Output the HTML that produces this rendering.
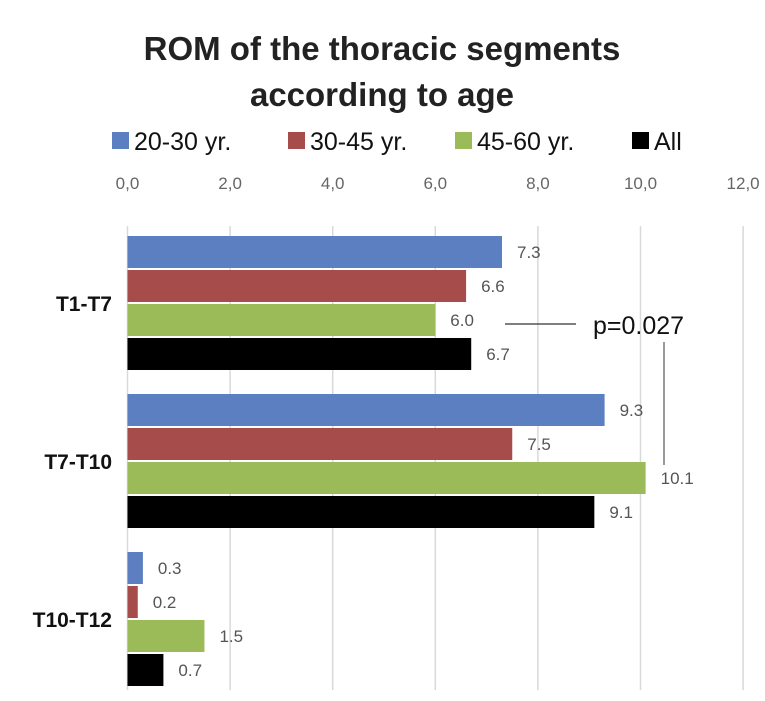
<!DOCTYPE html>
<html><head><meta charset="utf-8"><style>
body{margin:0;background:#fff;}
svg{display:block;font-family:"Liberation Sans",sans-serif;}
</style></head><body>
<svg id="chart" width="765" height="701">
<text x="382" y="60" text-anchor="middle" font-size="33" font-weight="bold" fill="#222">ROM of the thoracic segments</text>
<text x="382" y="106" text-anchor="middle" font-size="33" font-weight="bold" fill="#222">according to age</text>
<g id="legend"></g>
<g id="grid"></g>
<g id="bars"></g>
<line x1="505" y1="324" x2="576" y2="324" stroke="#333" stroke-width="1.2"/>
<line x1="664" y1="342" x2="664" y2="465" stroke="#777" stroke-width="1.5"/>
<text x="593" y="334" font-size="25" fill="#111">p=0.027</text>
</svg>
<script>
const categories=["T1-T7","T7-T10","T10-T12"];
const seriesNames=["20-30 yr.","30-45 yr.","45-60 yr.","All"];
const s20_30=[7.3,9.3,0.3];
const s30_45=[6.6,7.5,0.2];
const s45_60=[6.0,10.1,1.5];
const sAll=[6.7,9.1,0.7];
const ticks=["0,0","2,0","4,0","6,0","8,0","10,0","12,0"];
const tickValues=[0,2,4,6,8,10,12];
const series=[s20_30,s30_45,s45_60,sAll];
const colors=["#5b7fc0","#a64c4a","#9bbb59","#000000"];
const NS="http://www.w3.org/2000/svg";
const x0=127.5,xs=51.3;
const X=v=>x0+v*xs;
const groupTop=[236,394,552],barH=32,barStep=34;
function mk(t,a,p){const e=document.createElementNS(NS,t);for(const k in a)e.setAttribute(k,a[k]);p.appendChild(e);return e;}
const grid=document.getElementById('grid');
tickValues.forEach((v,i)=>{
  if(i>0){const l=mk('line',{x1:X(v),x2:X(v),y1:226,y2:690,stroke:'#d9d9d9','stroke-width':1.5},grid);
  
  }
  const t=mk('text',{x:X(v),y:189,'text-anchor':'middle','font-size':17,fill:'#666'},grid);t.textContent=ticks[i];
  
  
});
const ax=mk('line',{x1:x0,x2:x0,y1:226,y2:690,stroke:'#d9d9d9','stroke-width':1.5},grid);


const bars=document.getElementById('bars');
categories.forEach((c,ci)=>{
  const t=mk('text',{x:112,y:groupTop[ci]+barStep*2+7,'text-anchor':'end','font-size':21,'font-weight':'bold',fill:'#111'},bars);t.textContent=c;
  
  
  series.forEach((s,si)=>{
    const y=groupTop[ci]+si*barStep;
    const r=mk('rect',{x:x0,y:y,width:X(s[ci])-x0,height:barH,fill:colors[si]},bars);
    
    
    const l=mk('text',{x:X(s[ci])+15,y:y+barH/2+6,'font-size':17,fill:'#555'},bars);l.textContent=s[ci].toFixed(1);
    
    
  });
});
const lg=document.getElementById('legend');
const lx=[112,288,455,632];
seriesNames.forEach((n,i)=>{
  const r=mk('rect',{x:lx[i],y:132,width:17,height:17,fill:colors[i]},lg);
  
  
  const t=mk('text',{x:lx[i]+22,y:150,'font-size':25,fill:'#111'},lg);t.textContent=n;
  
  
});
</script>
</body></html>
